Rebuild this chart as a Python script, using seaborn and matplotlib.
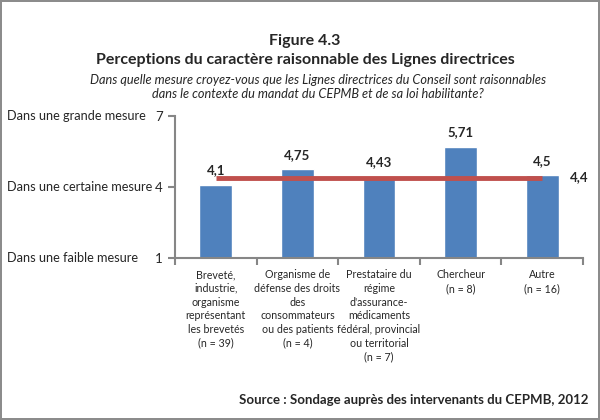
import pandas as pd
import numpy as np
import seaborn as sns
import matplotlib.pyplot as plt

categories = [
    "Breveté,\nindustrie,\norganisme\nreprésentant\nles brevetés\n(n = 39)",
    "Organisme de\ndéfense des droits\ndes\nconsommateurs\nou des patients\n(n = 4)",
    "Prestataire du\nrégime\nd'assurance-\nmédicaments\nfédéral, provincial\nou territorial\n(n = 7)",
    "Chercheur\n(n = 8)",
    "Autre\n(n = 16)",
]
scores = [4.1, 4.75, 4.43, 5.71, 4.5]
score_labels = ["4,1", "4,75", "4,43", "5,71", "4,5"]
moyenne = 4.4
moyenne_label = "4,4"
ytick_values = [1, 4, 7]
ytick_texts = ["Dans une faible mesure", "Dans une certaine mesure", "Dans une grande mesure"]

sns.set_style("white")
plt.rcParams['font.family'] = ['Lato', 'DejaVu Sans']

df = pd.DataFrame({"categorie": categories, "score": scores})

fig = plt.figure(figsize=(6, 4.2), dpi=100)
fig.patch.set_edgecolor('#8c8c8c')
fig.patch.set_linewidth(1.5)
ax = fig.add_axes([175 / 600, 1 - 258 / 420, 408 / 600, 142 / 420])

sns.barplot(data=df, x="categorie", y="score", color="#4F81BD", width=0.4,
            saturation=1, ax=ax)
# la barre part de 1 (bas de l'échelle)
for p, v in zip(ax.patches, scores):
    p.set_y(1)
    p.set_height(v - 1)

ax.plot(range(len(categories)), [moyenne] * len(categories), color="#C0504D", linewidth=3.5,
        solid_capstyle='butt')

for i, (v, lab) in enumerate(zip(scores, score_labels)):
    ax.text(i, v + 0.35, lab, ha='center', va='bottom', fontsize=9.5, fontweight='bold')
ax.text(len(categories) - 1 + 0.45, moyenne, moyenne_label, ha='center', va='center',
        fontsize=9.5, fontweight='bold')

ax.set_xlim(-0.5, len(categories) - 0.5)
ax.set_ylim(1, 7)
ax.set_yticks(ytick_values)
ax.set_yticklabels([str(v) for v in ytick_values], fontsize=9.5)
for v, t in zip(ytick_values, ytick_texts):
    ax.text(-168 / 408, v, t, transform=ax.get_yaxis_transform(), ha='left',
            va='center', fontsize=9.2)

ax.set_xticks(range(len(categories)))
ax.set_xticklabels(categories, fontsize=7.7, va='top', linespacing=1.3)
ax.set_xticks(np.arange(-0.5, len(categories), 1), minor=True)
ax.tick_params(axis='x', which='major', length=0, pad=8)
ax.tick_params(axis='x', which='minor', length=5, color='#868686', width=1.5, direction='out',
               bottom=True)
ax.tick_params(axis='y', length=5, color='#868686', width=1.5, direction='out', left=True, pad=4)
ax.set_xlabel("")
ax.set_ylabel("")
sns.despine(ax=ax)
for s in ["left", "bottom"]:
    ax.spines[s].set_color('#868686')
    ax.spines[s].set_linewidth(1.5)

fig.text(305 / 600, 1 - 41 / 420, "Figure 4.3", ha='center', va='center', fontsize=11.5,
         fontweight='bold')
fig.text(305 / 600, 1 - 60 / 420, "Perceptions du caractère raisonnable des Lignes directrices",
         ha='center', va='center', fontsize=11.5, fontweight='bold')
fig.text(318 / 600, 1 - 87 / 420,
         "Dans quelle mesure croyez-vous que les Lignes directrices du Conseil sont raisonnables\n"
         "dans le contexte du mandat du CEPMB et de sa loi habilitante?",
         ha='center', va='center', fontsize=9.2, style='italic', linespacing=1.3)
fig.text(588 / 600, 1 - 400 / 420, "Source : Sondage auprès des intervenants du CEPMB, 2012",
         ha='right', va='center', fontsize=9.5, fontweight='bold')

fig.savefig("out.png", dpi=100, edgecolor=fig.get_edgecolor())
